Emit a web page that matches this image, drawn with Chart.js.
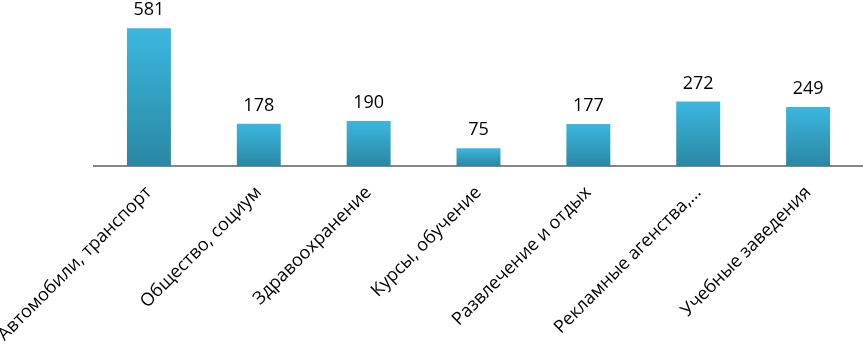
<!DOCTYPE html>
<html lang="ru">
<head>
  <meta charset="UTF-8" />
  <title>Категории</title>
  <script src="https://cdn.jsdelivr.net/npm/chart.js"></script>
  <style>
    html, body { margin: 0; padding: 0; background: #fff; }
    .chart-container { position: relative; width: 863px; height: 342px; }
  </style>
</head>
<body>
  <div class="chart-container">
    <canvas id="barChart"></canvas>
  </div>
  <script>
    const categories = [
      'Автомобили, транспорт',
      'Общество, социум',
      'Здравоохранение',
      'Курсы, обучение',
      'Развлечение и отдых',
      'Рекламные агенства,...',
      'Учебные заведения'
    ];
    const counts = [581, 178, 190, 75, 177, 272, 249];

    // labels above the bars
    const valueLabels = {
      id: 'valueLabels',
      afterDatasetsDraw(chart) {
        const ctx = chart.ctx;
        const meta = chart.getDatasetMeta(0);
        ctx.save();
        ctx.font = '18px "Open Sans", sans-serif';
        ctx.fillStyle = '#000';
        ctx.textAlign = 'center';
        ctx.textBaseline = 'bottom';
        meta.data.forEach((bar, i) => {
          ctx.fillText(counts[i], bar.x, bar.y - 9);
        });
        ctx.restore();
      }
    };

    // each bar: lighter at its top, darker at the axis
    function barGradient(context) {
      const chart = context.chart;
      const area = chart.chartArea;
      const y = chart.scales.y;
      if (!area || !y || context.dataIndex === undefined) return '#31a3c7';
      const top = y.getPixelForValue(counts[context.dataIndex]);
      const g = chart.ctx.createLinearGradient(0, top, 0, area.bottom);
      g.addColorStop(0, '#3bb7df');
      g.addColorStop(1, '#2a87a4');
      return g;
    }

    new Chart(document.getElementById('barChart'), {
      type: 'bar',
      data: {
        labels: categories,
        datasets: [{
          data: counts,
          backgroundColor: barGradient,
          borderWidth: 0,
          barPercentage: 0.4,
          categoryPercentage: 1
        }]
      },
      options: {
        responsive: true,
        maintainAspectRatio: false,
        animation: false,
        layout: { padding: { left: 94, right: 0, top: 0, bottom: 0 } },
        plugins: { legend: { display: false }, tooltip: { enabled: false } },
        scales: {
          x: {
            grid: { display: false, drawTicks: false },
            border: { color: '#868686', width: 2 },
            ticks: {
              color: '#000',
              font: { family: '"Open Sans", sans-serif', size: 18 },
              minRotation: 45,
              maxRotation: 45,
              autoSkip: false,
              padding: 16
            },
            afterFit(scale) {
              scale.height = 176;
              scale.paddingLeft = 0;
              scale.paddingRight = 0;
            }
          },
          y: {
            display: false,
            min: 0,
            max: 700
          }
        }
      },
      plugins: [valueLabels]
    });
  </script>
</body>
</html>
